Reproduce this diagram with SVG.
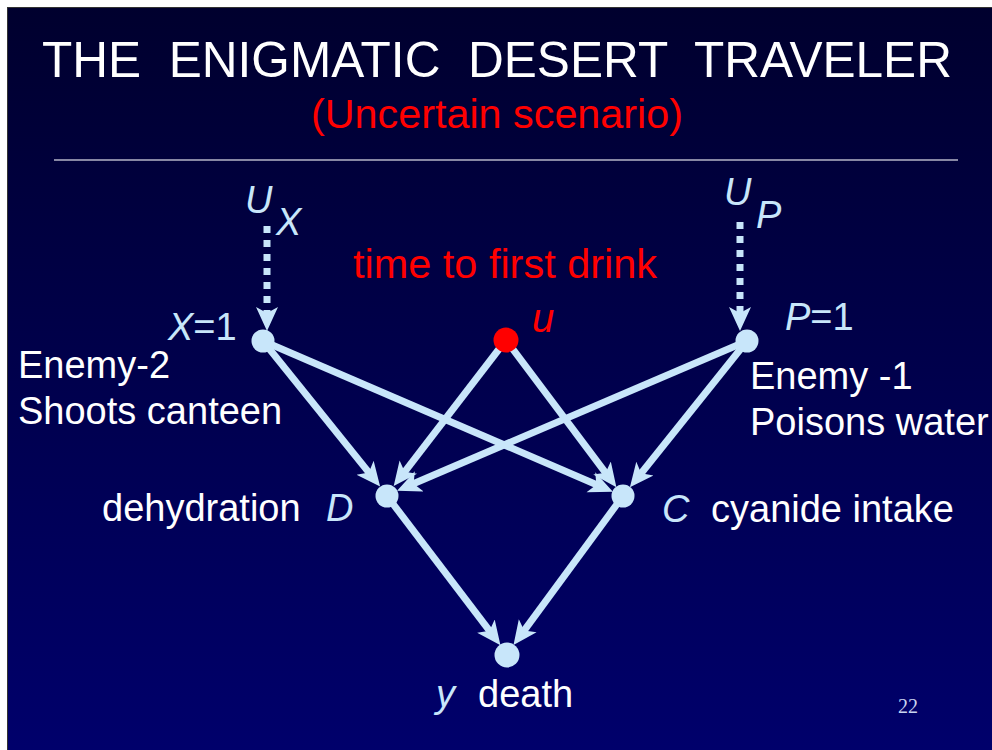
<svg xmlns="http://www.w3.org/2000/svg" width="992" height="750" viewBox="0 0 992 750">
<defs>
<linearGradient id="bg" x1="0" y1="0" x2="0" y2="1">
<stop offset="0" stop-color="#00002e"/>
<stop offset="1" stop-color="#00006c"/>
</linearGradient>
<marker id="ah" markerUnits="userSpaceOnUse" markerWidth="26" markerHeight="24" refX="12" refY="11" orient="auto" viewBox="0 0 26 22">
<path d="M0,0 L24,11 L0,22 L6,11 z" fill="#c8e6fa"/>
</marker>
</defs>
<style>
text{font-family:"Liberation Sans",Arial,sans-serif}
.w{fill:#ffffff}
.b{fill:#c8e6fa}
.r{fill:#ff0000}
.i{font-style:italic}
.lab{font-size:38px}
.edge{stroke:#c8e6fa;stroke-width:7;fill:none;marker-end:url(#ah)}
.dash{stroke:#c8e6fa;stroke-width:7;fill:none;stroke-dasharray:7 7;marker-end:url(#ah)}
.node{fill:#c8e6fa}
</style>
<rect x="0" y="0" width="992" height="750" fill="#ffffff"/>
<rect x="7.5" y="7.5" width="990" height="750" fill="url(#bg)" stroke="#333333" stroke-width="1"/>

<g id="title">
<text x="497" y="77" class="w" font-size="50" text-anchor="middle" textLength="910" lengthAdjust="spacingAndGlyphs" xml:space="preserve">THE  ENIGMATIC  DESERT  TRAVELER</text>
<text x="497" y="128" class="r" font-size="40" text-anchor="middle" textLength="372" lengthAdjust="spacingAndGlyphs">(Uncertain scenario)</text>
<line x1="54" y1="160" x2="958" y2="160" stroke="#b4b4c8" stroke-width="1.5"/>
</g>

<g id="connectors">
<line class="dash" x1="267" y1="226" x2="267" y2="319"/>
<line class="dash" x1="740" y1="222" x2="740" y2="319"/>
<line class="edge" x1="263" y1="341" x2="372.6" y2="477.1"/>
<line class="edge" x1="263" y1="341" x2="601.9" y2="487.0"/>
<line class="edge" x1="506" y1="340" x2="401.0" y2="476.6"/>
<line class="edge" x1="506" y1="340" x2="609.2" y2="477.6"/>
<line class="edge" x1="747" y1="341" x2="408.1" y2="486.0"/>
<line class="edge" x1="747" y1="341" x2="637.4" y2="478.0"/>
<line class="edge" x1="387" y1="496" x2="493.2" y2="635.6"/>
<line class="edge" x1="623" y1="496" x2="520.6" y2="635.4"/>
</g>

<g id="node-UX">
<text x="245" y="213" class="b i lab">U</text>
<text x="276" y="235" class="b i lab">X</text>
</g>
<g id="node-UP">
<text x="724" y="205" class="b i lab">U</text>
<text x="756" y="228" class="b i lab">P</text>
</g>
<g id="node-X">
<circle cx="263" cy="341" r="11.5" class="node"/>
<text x="168" y="340" class="b lab"><tspan class="i">X</tspan>=1</text>
<text x="18" y="378" class="w lab">Enemy-2</text>
<text x="18" y="424" class="w lab">Shoots canteen</text>
</g>
<g id="node-u">
<circle cx="506" cy="340" r="12.5" fill="#ff0000"/>
<text x="353" y="278" class="r" font-size="40" textLength="304" lengthAdjust="spacingAndGlyphs">time to first drink</text>
<text x="532" y="332" class="r i" font-size="40">u</text>
</g>
<g id="node-P">
<circle cx="747" cy="341" r="11.5" class="node"/>
<text x="785" y="330" class="b lab"><tspan class="i">P</tspan>=1</text>
<text x="750" y="389" class="w lab">Enemy -1</text>
<text x="750" y="435" class="w lab">Poisons water</text>
</g>
<g id="node-D">
<circle cx="387" cy="496" r="11.5" class="node"/>
<text x="102" y="521" class="w lab">dehydration</text>
<text x="326" y="521" class="b i lab">D</text>
</g>
<g id="node-C">
<circle cx="623" cy="496" r="11.5" class="node"/>
<text x="662" y="522" class="b i lab">C</text>
<text x="711" y="522" class="w lab">cyanide intake</text>
</g>
<g id="node-y">
<circle cx="507" cy="655" r="12.5" class="node"/>
<text x="436" y="707" class="b i lab">y</text>
<text x="478" y="707" class="w lab">death</text>
</g>
<text x="898" y="713" fill="#c8d4f0" font-size="20" style="font-family:'Liberation Serif',serif">22</text>
</svg>
